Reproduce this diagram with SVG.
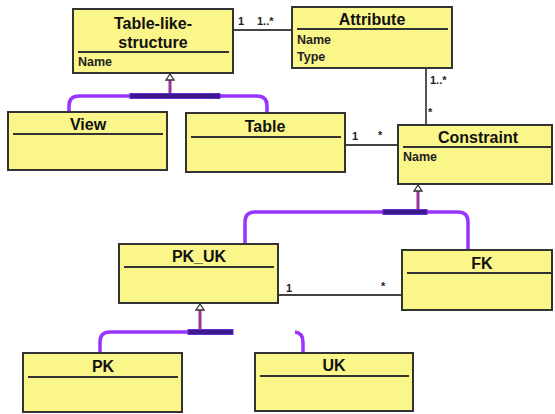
<svg xmlns="http://www.w3.org/2000/svg" width="555" height="414" viewBox="0 0 555 414">
<style>
.box{fill:#FBF68A;stroke:#333;stroke-width:2}
.sep{stroke:#333;stroke-width:1.8}
.t{font-family:"Liberation Sans",Arial,sans-serif;font-weight:bold;font-size:16px;fill:#111;text-anchor:middle}
.a{font-family:"Liberation Sans",Arial,sans-serif;font-weight:bold;font-size:12.5px;fill:#222}
.m{font-family:"Liberation Sans",Arial,sans-serif;font-weight:bold;font-size:11px;fill:#222}
.assoc{stroke:#444;stroke-width:1.8;fill:none}
.gen{stroke:#9933FF;stroke-width:3.5;fill:none}
.stem{stroke:#993399;stroke-width:3;fill:none}
.bar{fill:#3A1A8C;stroke:#6A2BCF;stroke-width:1}
.tri{fill:#fff;stroke:#333;stroke-width:1.3}
</style>
<rect width="555" height="414" fill="#fff"/>
<g id="connectors">
<line class="assoc" x1="233" y1="30" x2="292" y2="30"/>
<text class="m" x="238" y="25">1</text><text class="m" x="257" y="25">1..*</text>
<line class="assoc" x1="426" y1="68" x2="426" y2="125"/>
<text class="m" x="430" y="84">1..*</text><text class="m" x="428" y="116">*</text>
<line class="assoc" x1="345" y1="145" x2="398" y2="145"/>
<text class="m" x="352" y="140">1</text><text class="m" x="378" y="139">*</text>
<line class="assoc" x1="278" y1="295" x2="402" y2="295"/>
<text class="m" x="286" y="292">1</text><text class="m" x="381" y="290">*</text>
<path class="gen" d="M69,112 V106 Q69,96 79,96 H257 Q267,96 267,106 V113"/>
<line class="stem" x1="170" y1="80" x2="170" y2="96"/>
<rect class="bar" x="130" y="93.5" width="90" height="5"/>
<polygon class="tri" points="170,74 166,80 174,80"/>
<path class="gen" d="M245,244 V222 Q245,212 255,212 H458 Q468,212 468,222 V250"/>
<line class="stem" x1="418" y1="190" x2="418" y2="212"/>
<rect class="bar" x="383" y="209.5" width="44" height="5"/>
<polygon class="tri" points="418,185 414,191 422,191"/>
<path class="gen" d="M100,353 V342 Q100,332 110,332 H200"/>
<path class="gen" d="M295,332 Q303,333 303,342 V353"/>
<line class="stem" x1="200" y1="310" x2="200" y2="332"/>
<rect class="bar" x="188" y="329.5" width="45" height="5"/>
<polygon class="tri" points="200,304 196,310 204,310"/>
</g>
<g id="table-like-structure">
<rect class="box" x="73" y="9" width="160" height="64"/>
<line class="sep" x1="78" y1="52" x2="229" y2="52"/>
<text class="t" x="153" y="29">Table-like-</text>
<text class="t" x="153" y="48">structure</text>
<text class="a" x="78" y="66">Name</text>
</g>
<g id="attribute">
<rect class="box" x="292" y="7" width="160" height="61"/>
<line class="sep" x1="297" y1="29" x2="448" y2="29"/>
<text class="t" x="372" y="25">Attribute</text>
<text class="a" x="297" y="44">Name</text>
<text class="a" x="297" y="61">Type</text>
</g>
<g id="view">
<rect class="box" x="8" y="112" width="159" height="58"/>
<line class="sep" x1="13" y1="134" x2="163" y2="134"/>
<text class="t" x="88" y="130">View</text>
</g>
<g id="table">
<rect class="box" x="186" y="113" width="159" height="59"/>
<line class="sep" x1="191" y1="137" x2="341" y2="137"/>
<text class="t" x="265" y="132">Table</text>
</g>
<g id="constraint">
<rect class="box" x="398" y="125" width="154" height="59"/>
<line class="sep" x1="403" y1="147" x2="552" y2="147"/>
<text class="t" x="478" y="143">Constraint</text>
<text class="a" x="403" y="161">Name</text>
</g>
<g id="pk_uk">
<rect class="box" x="119" y="244" width="159" height="59"/>
<line class="sep" x1="124" y1="267" x2="274" y2="267"/>
<text class="t" x="199" y="262">PK_UK</text>
</g>
<g id="fk">
<rect class="box" x="402" y="250" width="150" height="60"/>
<line class="sep" x1="407" y1="273" x2="552" y2="273"/>
<text class="t" x="482" y="269">FK</text>
</g>
<g id="pk">
<rect class="box" x="23" y="353" width="159" height="59"/>
<line class="sep" x1="28" y1="377" x2="178" y2="377"/>
<text class="t" x="103" y="372">PK</text>
</g>
<g id="uk">
<rect class="box" x="255" y="353" width="158" height="58"/>
<line class="sep" x1="260" y1="376" x2="409" y2="376"/>
<text class="t" x="334" y="371">UK</text>
</g>
</svg>
